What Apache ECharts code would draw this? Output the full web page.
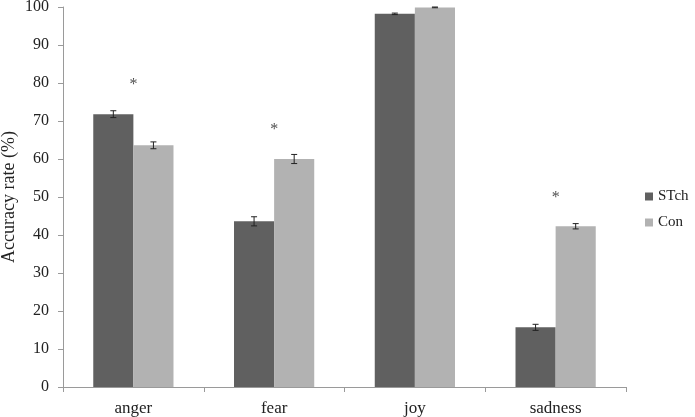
<!DOCTYPE html>
<html>
<head>
<meta charset="utf-8">
<script src="https://cdn.jsdelivr.net/npm/echarts@6/dist/echarts.min.js"></script>
<style>
html,body{margin:0;padding:0;background:#fff;}
#chart{width:695px;height:417px;}
</style>
</head>
<body>
<div id="chart"></div>
<script>
var categories = ["anger", "fear", "joy", "sadness"];
var stchValues = [71.8, 43.6, 98.2, 15.7];
var conValues = [63.6, 60.0, 99.9, 42.3];
var stchErrors = [0.9, 1.2, 0.2, 0.8];
var conErrors = [0.9, 1.2, 0.1, 0.7];
// where the significance stars sit (value on y axis), null = no star
var starValues = [79.5, 67.6, null, 49.7];

var gapPct = 43;

function errorSeries(values, errors, side) {
	var data = [];
	for (var i = 0; i < values.length; i++) {
		data.push([i, values[i] - errors[i], values[i] + errors[i]]);
	}
	return {
		type: 'custom',
		z: 10,
		data: data,
		renderItem: function (params, api) {
			var band = api.size([1, 0])[0];
			var barW = band * (1 - gapPct / 100) / 2;
			var lo = api.coord([api.value(0), api.value(1)]);
			var hi = api.coord([api.value(0), api.value(2)]);
			var x = lo[0] + side * barW / 2;
			var cap = 3;
			var st = {stroke: '#222', lineWidth: 1};
			return {
				type: 'group',
				children: [
					{type: 'line', shape: {x1: x, y1: lo[1], x2: x, y2: hi[1]}, style: st},
					{type: 'line', shape: {x1: x - cap, y1: lo[1], x2: x + cap, y2: lo[1]}, style: st},
					{type: 'line', shape: {x1: x - cap, y1: hi[1], x2: x + cap, y2: hi[1]}, style: st}
				]
			};
		}
	};
}

var starData = [];
for (var k = 0; k < starValues.length; k++) {
	if (starValues[k] != null) starData.push([k, starValues[k]]);
}

var myChart = echarts.init(document.getElementById('chart'));
var option = {
	animation: false,
	textStyle: {fontFamily: 'Liberation Serif'},
	grid: {left: 63, right: 69, top: 7, bottom: 30, containLabel: false, outerBoundsMode: 'none'},
	legend: {
		orient: 'vertical',
		left: 640,
		top: 184,
		itemWidth: 8,
		itemHeight: 8,
		itemGap: 11,
		icon: 'rect',
		textStyle: {fontFamily: 'Liberation Serif', fontSize: 15, color: '#222'},
		data: ['STch', 'Con']
	},
	xAxis: {
		type: 'category',
		data: categories,
		axisLine: {lineStyle: {color: '#9a9a9a'}},
		axisTick: {show: true, length: 5, lineStyle: {color: '#9a9a9a'}},
		axisLabel: {fontFamily: 'Liberation Serif', fontSize: 17, color: '#222', margin: 13}
	},
	yAxis: {
		type: 'value',
		min: 0,
		max: 100,
		interval: 10,
		name: 'Accuracy rate (%)',
		nameLocation: 'middle',
		nameGap: 45,
		nameMoveOverlap: false,
		nameRotate: 90,
		nameTextStyle: {fontFamily: 'Liberation Serif', fontSize: 18, color: '#222'},
		axisLine: {show: true, lineStyle: {color: '#9a9a9a'}},
		axisTick: {show: true, length: 5, lineStyle: {color: '#9a9a9a'}},
		splitLine: {show: false},
		axisLabel: {fontFamily: 'Liberation Serif', fontSize: 16, color: '#222', margin: 14}
	},
	series: [
		{
			name: 'STch',
			type: 'bar',
			data: stchValues,
			barGap: '0%',
			barCategoryGap: gapPct + '%',
			itemStyle: {color: '#606060'}
		},
		{
			name: 'Con',
			type: 'bar',
			data: conValues,
			itemStyle: {color: '#b2b2b2'}
		},
		errorSeries(stchValues, stchErrors, -1),
		errorSeries(conValues, conErrors, 1),
		{
			type: 'scatter',
			data: starData,
			symbolSize: 1,
			itemStyle: {color: 'rgba(0,0,0,0)'},
			label: {
				show: true,
				position: 'inside',
				formatter: '*',
				fontFamily: 'Liberation Serif',
				fontSize: 16,
				color: '#222'
			}
		}
	]
};
myChart.setOption(option);
</script>
</body>
</html>
